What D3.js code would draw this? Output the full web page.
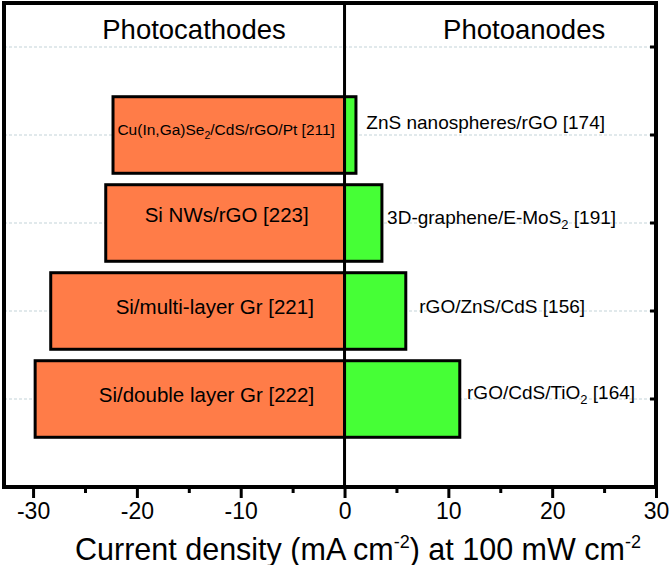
<!DOCTYPE html>
<html>
<head>
<meta charset="utf-8">
<script src="https://cdn.jsdelivr.net/npm/d3@7"></script>
<style>
  body { margin: 0; background: #fff; }
  text { font-family: Arial, "Liberation Sans", sans-serif; fill: #000; }
</style>
</head>
<body>
<script>
// data (mA cm-2)
var groupTitles = ["Photocathodes", "Photoanodes"];
var groupTitleAt = [-14.5, 17.3];

var cathodeLabels = ["Cu(In,Ga)Se_2/CdS/rGO/Pt [211]", "Si NWs/rGO [223]", "Si/multi-layer Gr [221]", "Si/double layer Gr [222]"];
var cathodeValues = [-22.3, -23.0, -28.3, -29.8];
var cathodeLabelAt = [-11.4, -11.35, -12.5, -13.3];

var anodeLabels = ["ZnS nanospheres/rGO [174]", "3D-graphene/E-MoS_2 [191]", "rGO/ZnS/CdS [156]", "rGO/CdS/TiO_2 [164]"];
var anodeValues = [1.1, 3.6, 5.9, 11.1];
var anodeLabelAt = [2.1, 4.1, 7.2, 11.8];

var xTicks = [-30, -20, -10, 0, 10, 20, 30];
var xMinorTicks = [-25, -15, -5, 5, 15, 25];

// small vertical nudges for the bar texts (px)
var cathodeNudge = [0, -1, 3, 3];
var anodeNudge = [-6, 1, 2, 0];

var width = 672, height = 565;

var svg = d3.select("body").append("svg")
    .attr("width", width)
    .attr("height", height);

var x = d3.scaleLinear().domain([-32.8, 30]).range([4, 656]);
// row 0 is the header row, rows 1..4 hold the bars
var y = d3.scaleLinear().domain([-0.5, 5]).range([3, 487]);
var step = y(1) - y(0);
var barH = step * 0.87;

// label with _n subscripts
function richText(sel, str, size) {
  var parts = str.split(/_(\d)/);
  var shift = size * 0.25;
  var back = 0;
  parts.forEach(function(p, i) {
    if (p === "") return;
    if (i % 2 === 1) {
      sel.append("tspan").attr("font-size", size * 0.68).attr("dy", shift).text(p);
      back = -shift;
    } else {
      sel.append("tspan").attr("dy", back).text(p);
      back = 0;
    }
  });
}

// dashed grid at row centres
svg.append("g")
  .selectAll("line")
  .data(d3.range(0, 5))
  .join("line")
    .attr("x1", x.range()[0]).attr("x2", x.range()[1])
    .attr("y1", function(d) { return y(d); })
    .attr("y2", function(d) { return y(d); })
    .attr("stroke", "#c3d3d8")
    .attr("stroke-width", 1)
    .attr("stroke-dasharray", "3,2");

// bars
svg.append("g")
  .selectAll("rect")
  .data(cathodeValues)
  .join("rect")
    .attr("x", function(d) { return x(d); })
    .attr("width", function(d) { return x(0) - x(d); })
    .attr("y", function(d, i) { return y(i + 1) - barH / 2; })
    .attr("height", barH)
    .attr("fill", "#ff7c48")
    .attr("stroke", "#000")
    .attr("stroke-width", 3);

svg.append("g")
  .selectAll("rect")
  .data(anodeValues)
  .join("rect")
    .attr("x", x(0))
    .attr("width", function(d) { return x(d) - x(0); })
    .attr("y", function(d, i) { return y(i + 1) - barH / 2; })
    .attr("height", barH)
    .attr("fill", "#46ff36")
    .attr("stroke", "#000")
    .attr("stroke-width", 3);

// zero line
svg.append("line")
  .attr("x1", x(0)).attr("x2", x(0))
  .attr("y1", y.range()[0]).attr("y2", y.range()[1])
  .attr("stroke", "#000")
  .attr("stroke-width", 3);

// frame
svg.append("rect")
  .attr("x", x.range()[0]).attr("y", y.range()[0])
  .attr("width", x.range()[1] - x.range()[0])
  .attr("height", y.range()[1] - y.range()[0])
  .attr("fill", "none")
  .attr("stroke", "#000")
  .attr("stroke-width", 4);

// right-side inward ticks
svg.append("g")
  .selectAll("line")
  .data(d3.range(0, 5))
  .join("line")
    .attr("x1", x.range()[1]).attr("x2", x.range()[1] - 6)
    .attr("y1", function(d) { return y(d); })
    .attr("y2", function(d) { return y(d); })
    .attr("stroke", "#000")
    .attr("stroke-width", 3);

// bottom axis
var axisG = svg.append("g")
    .attr("transform", "translate(0," + y.range()[1] + ")")
    .call(d3.axisBottom(x).tickValues(xTicks).tickSize(11).tickPadding(5).tickFormat(d3.format("d")));
axisG.select(".domain").remove();
axisG.selectAll(".tick line").attr("stroke-width", 3);
axisG.selectAll(".tick text")
    .attr("font-size", 23)
    .attr("font-family", "Arial, 'Liberation Sans', sans-serif")
    .attr("fill", "#000")
    .text(function(d) { return d < 0 ? "-" + Math.abs(d) : d; });

var minorG = svg.append("g")
    .attr("transform", "translate(0," + y.range()[1] + ")")
    .call(d3.axisBottom(x).tickValues(xMinorTicks).tickSize(6).tickFormat(""));
minorG.select(".domain").remove();
minorG.selectAll(".tick line").attr("stroke-width", 3);

// header titles
svg.append("g")
  .selectAll("text")
  .data(groupTitles)
  .join("text")
    .attr("x", function(d, i) { return x(groupTitleAt[i]); })
    .attr("y", y(0) - 8)
    .attr("text-anchor", "middle")
    .attr("font-size", 27.5)
    .text(function(d) { return d; });

// cathode labels inside bars
svg.append("g")
  .selectAll("text")
  .data(cathodeLabels)
  .join("text")
    .attr("x", function(d, i) { return x(cathodeLabelAt[i]); })
    .attr("y", function(d, i) { return y(i + 1) + cathodeNudge[i]; })
    .attr("dy", "0.35em")
    .attr("text-anchor", "middle")
    .attr("font-size", function(d, i) { return i === 0 ? 15.5 : 20.5; })
    .each(function(d, i) { richText(d3.select(this), d, i === 0 ? 15.5 : 20.5); });

// anode labels right of bars
svg.append("g")
  .selectAll("text")
  .data(anodeLabels)
  .join("text")
    .attr("x", function(d, i) { return x(anodeLabelAt[i]); })
    .attr("y", function(d, i) { return y(i + 1) + anodeNudge[i]; })
    .attr("dy", "0.35em")
    .attr("font-size", 19)
    .each(function(d) { richText(d3.select(this), d, 19); });

// x title
var title = svg.append("text")
    .attr("x", 358)
    .attr("y", 560)
    .attr("text-anchor", "middle")
    .attr("font-size", 30.5);
title.append("tspan").text("Current density (mA cm");
title.append("tspan").attr("font-size", 18).attr("dy", -12).text("-2");
title.append("tspan").attr("dy", 12).text(") at 100 mW cm");
title.append("tspan").attr("font-size", 18).attr("dy", -12).text("-2");
</script>
</body>
</html>
